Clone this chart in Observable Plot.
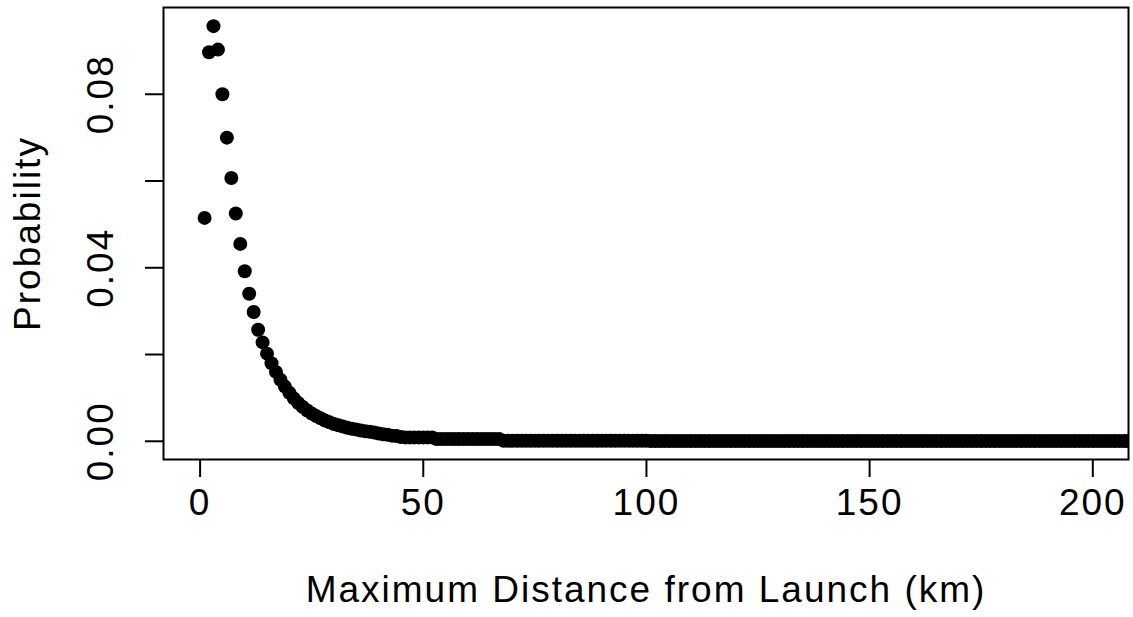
<!DOCTYPE html>
<html>
<head>
<meta charset="utf-8">
<script src="https://cdn.jsdelivr.net/npm/d3@7"></script>
<script src="https://cdn.jsdelivr.net/npm/@observablehq/plot@0.6"></script>
<style>
  body { margin: 0; background: #fff; }
</style>
</head>
<body>
<div id="chart"></div>
<script>
// Probability of each maximum distance from launch, 1 km steps starting at 1 km
const probability = [
  0.0515, 0.0897, 0.0957, 0.0903, 0.0800, 0.0700, 0.0607, 0.0525, 0.0455, 0.0392,
  0.0340, 0.0298, 0.0257, 0.0228, 0.0202, 0.0180, 0.0160, 0.0142, 0.0126, 0.0112,
  0.0099, 0.0088, 0.0079, 0.0071, 0.0064, 0.0058, 0.0053, 0.0048, 0.0044, 0.0040,
  0.0037, 0.0034, 0.0031, 0.0029, 0.0027, 0.0025, 0.0023, 0.0022, 0.0020, 0.0018,
  0.0016, 0.0015, 0.0013, 0.0012, 0.0010, 0.0009, 0.0009, 0.0009, 0.0009, 0.0009,
  0.0009, 0.0009, 0.0005, 0.0005, 0.0005, 0.0005, 0.0005, 0.0005, 0.0005, 0.0005,
  0.0005, 0.0005, 0.0005, 0.0005, 0.0005, 0.0005, 0.0005, 0.0001, 0.0001, 0.0001,
  0.0001, 0.0001, 0.0001, 0.0001, 0.0001, 0.0001, 0.0001, 0.0001, 0.0001, 0.0001,
  0.0001, 0.0001, 0.0001, 0.0001, 0.0001, 0.0001, 0.0001, 0.0001, 0.0001, 0.0001,
  0.0001, 0.0001, 0.0001, 0.0001, 0.0001, 0.0001, 0.0001, 0.0001, 0.0001, 0.0001,
  0.00005, 0.00005, 0.00005, 0.00005, 0.00005, 0.00005, 0.00005, 0.00005, 0.00005, 0.00005,
  0.00005, 0.00005, 0.00005, 0.00005, 0.00005, 0.00005, 0.00005, 0.00005, 0.00005, 0.00005,
  0.00005, 0.00005, 0.00005, 0.00005, 0.00005, 0.00005, 0.00005, 0.00005, 0.00005, 0.00005,
  0.00005, 0.00005, 0.00005, 0.00005, 0.00005, 0.00005, 0.00005, 0.00005, 0.00005, 0.00005,
  0.00005, 0.00005, 0.00005, 0.00005, 0.00005, 0.00005, 0.00005, 0.00005, 0.00005, 0.00005,
  0.00005, 0.00005, 0.00005, 0.00005, 0.00005, 0.00005, 0.00005, 0.00005, 0.00005, 0.00005,
  0.00005, 0.00005, 0.00005, 0.00005, 0.00005, 0.00005, 0.00005, 0.00005, 0.00005, 0.00005,
  0.00005, 0.00005, 0.00005, 0.00005, 0.00005, 0.00005, 0.00005, 0.00005, 0.00005, 0.00005,
  0.00005, 0.00005, 0.00005, 0.00005, 0.00005, 0.00005, 0.00005, 0.00005, 0.00005, 0.00005,
  0.00005, 0.00005, 0.00005, 0.00005, 0.00005, 0.00005, 0.00005, 0.00005, 0.00005, 0.00005,
  0.00005, 0.00005, 0.00005, 0.00005, 0.00005, 0.00005, 0.00005, 0.00005, 0.00005, 0.00005,
  0.00005, 0.00005, 0.00005, 0.00005, 0.00005
];

const xTicks = [0, 50, 100, 150, 200];
const yTicks = [0, 0.02, 0.04, 0.06, 0.08];
const yTickLabels = ["0.00", "", "0.04", "", "0.08"];
const xTitle = "Maximum Distance from Launch (km)";
const yTitle = "Probability";

const points = probability.map((p, i) => ({distance: i + 1, p}));
const yLabelRows = yTicks
  .map((v, i) => ({v, label: yTickLabels[i]}))
  .filter(d => d.label !== "");

const font = '"Liberation Sans", Arial, Helvetica, sans-serif';

const chart = Plot.plot({
  width: 1133,
  height: 617,
  marginLeft: 163,
  marginTop: 7,
  marginRight: 5,
  marginBottom: 158,
  style: {
    fontFamily: font,
    fontSize: "37px",
    letterSpacing: "2px",
    color: "black",
    background: "white"
  },
  x: {domain: [-8.2, 208]},
  y: {domain: [-0.0042, 0.1]},
  marks: [
    Plot.dot(points, {x: "distance", y: "p", r: 7, fill: "black", clip: "frame"}),
    Plot.frame({stroke: "black", strokeWidth: 2}),
    Plot.axisX(xTicks, {
      tickSize: 18, tickPadding: 11, strokeWidth: 2,
      fontSize: 37, label: null, tickFormat: d => String(d)
    }),
    Plot.axisY(yTicks, {
      tickSize: 18, strokeWidth: 2, label: null, tickFormat: () => ""
    }),
    // rotated tick labels, reading bottom to top, centred on their ticks
    Plot.text(yLabelRows, {
      y: "v", text: "label", frameAnchor: "left", dx: -62,
      rotate: -90, textAnchor: "middle", lineAnchor: "middle",
      fontSize: 37, fill: "black"
    }),
    Plot.text([yTitle], {
      frameAnchor: "left", dx: -135, rotate: -90,
      textAnchor: "middle", lineAnchor: "middle",
      fontSize: 37, fill: "black"
    }),
    Plot.text([xTitle], {
      frameAnchor: "bottom", dy: 131,
      textAnchor: "middle", lineAnchor: "middle",
      fontSize: 37, fill: "black"
    })
  ]
});

document.getElementById("chart").appendChild(chart);
</script>
</body>
</html>
